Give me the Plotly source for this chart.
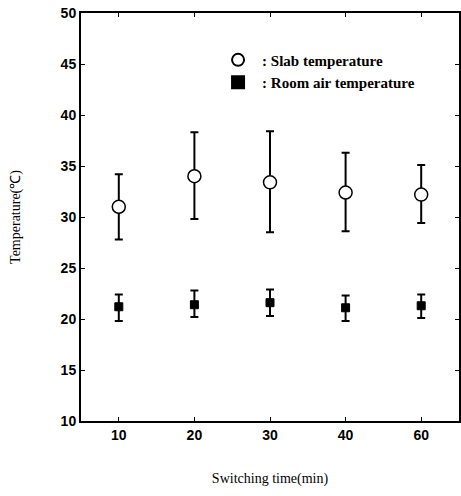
import plotly.graph_objects as go

categories = ["10", "20", "30", "40", "60"]
slab_mean = [31.0, 34.0, 33.4, 32.4, 32.2]
slab_upper = [34.2, 38.3, 38.4, 36.3, 35.1]
slab_lower = [27.8, 29.8, 28.5, 28.6, 29.4]
room_mean = [21.2, 21.4, 21.6, 21.1, 21.3]
room_upper = [22.4, 22.8, 22.9, 22.3, 22.4]
room_lower = [19.8, 20.2, 20.3, 19.8, 20.1]
y_ticks = [10, 15, 20, 25, 30, 35, 40, 45, 50]

def err(mean, upper, lower):
    return dict(type="data", symmetric=False,
                array=[u - m for u, m in zip(upper, mean)],
                arrayminus=[m - l for m, l in zip(mean, lower)],
                color="black", thickness=2, width=4)

fig = go.Figure()
fig.add_trace(go.Scatter(
    x=categories, y=slab_mean, mode="markers", name=": Slab temperature",
    marker=dict(symbol="circle", size=13, color="white", line=dict(color="black", width=1.5)),
    error_y=err(slab_mean, slab_upper, slab_lower)))
fig.add_trace(go.Scatter(
    x=categories, y=room_mean, mode="markers", name=": Room air temperature",
    marker=dict(symbol="square", size=8, color="black", line=dict(color="black", width=1)),
    error_y=err(room_mean, room_upper, room_lower)))

fig.update_layout(
    width=461, height=496,
    margin=dict(l=81, r=2, t=13, b=75, autoexpand=False),
    paper_bgcolor="white", plot_bgcolor="white",
    showlegend=True,
    legend=dict(x=0.352, y=0.925, xanchor="left", yanchor="top",
                bgcolor="rgba(0,0,0,0)", itemsizing="constant",
                font=dict(family="Liberation Serif", size=15, color="black", weight="bold"),
                tracegroupgap=0, itemwidth=38),
    xaxis=dict(type="category", range=[-0.5, 4.5], showgrid=False, automargin=False,
               showline=True, linecolor="black", linewidth=2, mirror="ticks",
               ticks="inside", ticklen=4, tickcolor="black",
               tickfont=dict(family="Liberation Sans", size=14, color="black", weight="bold"),
               title=dict(text="Switching time(min)", standoff=31,
                          font=dict(family="Liberation Serif", size=14, color="black"))),
    yaxis=dict(range=[10, 50], tickvals=y_ticks, showgrid=False, zeroline=False, automargin=False,
               showline=True, linecolor="black", linewidth=2, mirror="ticks",
               ticks="inside", ticklen=4, tickcolor="black", ticklabeloverflow="allow",
               tickfont=dict(family="Liberation Sans", size=14, color="black", weight="bold"),
               title=dict(text="Temperature(℃)", standoff=37,
                          font=dict(family="Liberation Serif", size=14, color="black"))),
)

fig.write_html("out.html", config={"displayModeBar": False},
               post_script="document.body.style.margin='0';")
